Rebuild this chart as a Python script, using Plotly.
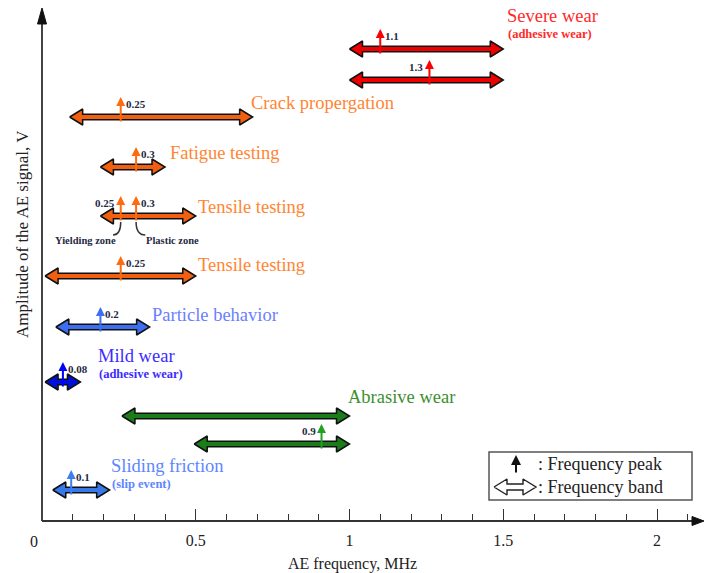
import plotly.graph_objects as go

# ---------------- data ----------------
band_name = ["Severe wear", "Severe wear", "Crack propergation", "Fatigue testing",
             "Tensile testing", "Tensile testing", "Particle behavior", "Mild wear",
             "Abrasive wear", "Abrasive wear", "Sliding friction"]
band_low = [1.00, 1.00, 0.09, 0.19, 0.19, 0.01, 0.045, 0.01, 0.26, 0.495, 0.035]
band_high = [1.50, 1.50, 0.685, 0.40, 0.50, 0.50, 0.35, 0.125, 1.00, 1.00, 0.22]
amplitude_level = [4.72, 4.41, 4.04, 3.54, 3.05, 2.45, 1.94, 1.39, 1.05, 0.77, 0.31]

peak_row = [0, 1, 2, 3, 4, 4, 5, 6, 7, 9, 10]
peak_freq = [1.10, 1.26, 0.256, 0.306, 0.256, 0.306, 0.256, 0.19, 0.068, 0.909, 0.095]
peak_text = ["1.1", "1.3", "0.25", "0.3", "0.25", "0.3", "0.25", "0.2", "0.08", "0.9", "0.1"]
peak_side = ["right", "left", "right", "right", "left", "right", "right", "right", "right", "left", "right"]

label_text = ["Severe wear", "Crack propergation", "Fatigue testing", "Tensile testing",
              "Tensile testing", "Particle behavior", "Mild wear", "Abrasive wear", "Sliding friction"]
label_sub = ["(adhesive wear)", "", "", "", "", "", "(adhesive wear)", "", "(slip event)"]
label_x = [1.505, 0.674, 0.41, 0.50, 0.50, 0.35, 0.177, 0.99, 0.219]
label_y = [5.05, 4.18, 3.68, 3.14, 2.56, 2.06, 1.65, 1.24, 0.55]

x_tick_vals = [0.5, 1, 1.5, 2]
x_tick_text = ["0.5", "1", "1.5", "2"]
x_minor_vals = [0.1, 0.2, 0.3, 0.4, 0.6, 0.7, 0.8, 0.9, 1.1, 1.2, 1.3, 1.4,
                1.6, 1.7, 1.8, 1.9, 2.1]

# ---------------- styles ----------------
FONT = "Liberation Serif, Times New Roman, serif"
row_fill = ["#ee0000", "#ee0000", "#f06010", "#f06010", "#f06010", "#f06010",
            "#3d6ef2", "#0010d8", "#1a7d1a", "#1a7d1a", "#3878e8"]
row_arrow = ["#ff0000", "#ff0000", "#ff6a10", "#ff6a10", "#ff6a10", "#ff6a10",
             "#3c6ff5", "#0000ff", "#22a022", "#22a022", "#3c80f0"]
label_color = ["#ff2a2a", "#ff8533", "#ff8533", "#ff8533", "#ff8533",
               "#6b80ff", "#3b2bff", "#3d8f2f", "#5d86ff"]

PX_X = 1 / 307.5   # MHz per pixel
PX_Y = 0.01        # level units per pixel
X_RANGE = [-42 * PX_X, 663 * PX_X]
Y_RANGE = [-0.10, 5.21]


def double_arrow(x0, x1, y, shaft=2.8, head=8.0, head_len=13.0):
    hl = head_len * PX_X
    s = shaft * PX_Y
    h = head * PX_Y
    xs = [x0, x0 + hl, x0 + hl, x1 - hl, x1 - hl, x1, x1 - hl, x1 - hl, x0 + hl, x0 + hl, x0]
    ys = [y, y + h, y + s, y + s, y + h, y, y - h, y - s, y - s, y - h, y]
    return xs, ys


fig = go.Figure()

# axes lines with arrow heads
fig.add_trace(go.Scatter(x=[0, 0], y=[0, 5.0], mode="lines",
                         line=dict(color="#444", width=2), hoverinfo="skip", showlegend=False))
fig.add_trace(go.Scatter(x=[-4.5 * PX_X, 0, 4.5 * PX_X, -4.5 * PX_X],
                         y=[5.13 - 16 * PX_Y, 5.13, 5.13 - 16 * PX_Y, 5.13 - 16 * PX_Y],
                         mode="lines", fill="toself", fillcolor="#111", line=dict(color="#111", width=1),
                         hoverinfo="skip", showlegend=False))
x_end = 662 * PX_X
fig.add_trace(go.Scatter(x=[0, x_end - 8 * PX_X], y=[0, 0], mode="lines",
                         line=dict(color="#333", width=2), hoverinfo="skip", showlegend=False))
fig.add_trace(go.Scatter(x=[x_end - 12 * PX_X, x_end, x_end - 12 * PX_X, x_end - 12 * PX_X],
                         y=[4.5 * PX_Y, 0, -4.5 * PX_Y, 4.5 * PX_Y],
                         mode="lines", fill="toself", fillcolor="#111", line=dict(color="#111", width=1),
                         hoverinfo="skip", showlegend=False))

# frequency bands
for i in range(len(band_name)):
    xs, ys = double_arrow(band_low[i], band_high[i], amplitude_level[i])
    fig.add_trace(go.Scatter(x=xs, y=ys, mode="lines", fill="toself",
                             fillcolor=row_fill[i], line=dict(color="#111", width=1.5),
                             name=band_name[i], hoverinfo="name", showlegend=False))

annotations = []
UP, DOWN = 0.20, 0.06
for k in range(len(peak_freq)):
    r = peak_row[k]
    f = peak_freq[k]
    lvl = amplitude_level[r]
    annotations.append(dict(x=f, y=lvl + UP, ax=f, ay=lvl - DOWN, xref="x", yref="y",
                            axref="x", ayref="y", text="", showarrow=True, arrowhead=2,
                            arrowsize=0.9, arrowwidth=2, arrowcolor=row_arrow[r], standoff=0))
    right = peak_side[k] == "right"
    annotations.append(dict(x=f, y=lvl + 0.13, xref="x", yref="y", text="<b>" + peak_text[k] + "</b>",
                            showarrow=False, xanchor="left" if right else "right",
                            xshift=3 if right else -4, yanchor="middle",
                            font=dict(family=FONT, size=11, color="#1f2a44")))

for j in range(len(label_text)):
    annotations.append(dict(x=label_x[j], y=label_y[j], xref="x", yref="y", text=label_text[j],
                            showarrow=False, xanchor="left", yanchor="middle",
                            font=dict(family=FONT, size=18.5, color=label_color[j])))
    if label_sub[j]:
        annotations.append(dict(x=label_x[j], y=label_y[j] - 0.175, xref="x", yref="y",
                                text="<b>" + label_sub[j] + "</b>", showarrow=False,
                                xanchor="left", yanchor="middle", xshift=1,
                                font=dict(family=FONT, size=12.5, color=label_color[j])))

# zone notes for the first tensile test
t_lvl = amplitude_level[4]
zone_y = t_lvl - 0.24
annotations.append(dict(x=0.14, y=zone_y, xref="x", yref="y", text="<b>Yielding zone</b>",
                        showarrow=False, font=dict(family=FONT, size=10.5, color="#1f2a44")))
annotations.append(dict(x=0.423, y=zone_y, xref="x", yref="y", text="<b>Plastic zone</b>",
                        showarrow=False, font=dict(family=FONT, size=10.5, color="#1f2a44")))
shapes = []
p1, p2 = peak_freq[4], peak_freq[5]
yc0 = t_lvl - DOWN
yc1 = t_lvl - 0.19
shapes.append(dict(type="path", xref="x", yref="y",
                   path=f"M {p1},{yc0} Q {p1},{yc1} {p1 - 0.025},{yc1}",
                   line=dict(color="#333", width=1.5)))
shapes.append(dict(type="path", xref="x", yref="y",
                   path=f"M {p2},{yc0} Q {p2},{yc1} {p2 + 0.03},{yc1}",
                   line=dict(color="#333", width=1.5)))

# legend box
lx0, lx1 = 447 * PX_X, 650 * PX_X
ly0, ly1 = 0.21, 0.69
shapes.append(dict(type="rect", xref="x", yref="y", x0=lx0, x1=lx1, y0=ly0, y1=ly1,
                   line=dict(color="#555", width=1.5), fillcolor="white", layer="below"))
leg_arrow_x = 474 * PX_X
annotations.append(dict(x=leg_arrow_x, y=0.66, ax=leg_arrow_x, ay=0.47, xref="x", yref="y",
                        axref="x", ayref="y", text="", showarrow=True, arrowhead=2,
                        arrowsize=1.0, arrowwidth=2, arrowcolor="#111", standoff=0))
xs, ys = double_arrow(452 * PX_X, 494 * PX_X, 0.34, shaft=3.0, head=8.0, head_len=13.0)
fig.add_trace(go.Scatter(x=xs, y=ys, mode="lines", fill="toself", fillcolor="white",
                         line=dict(color="#222", width=1.4), hoverinfo="skip", showlegend=False))
annotations.append(dict(x=494 * PX_X, y=0.57, xref="x", yref="y", text=": Frequency peak",
                        showarrow=False, xanchor="left", yanchor="middle",
                        font=dict(family=FONT, size=18, color="#222")))
annotations.append(dict(x=494 * PX_X, y=0.34, xref="x", yref="y", text=": Frequency band",
                        showarrow=False, xanchor="left", yanchor="middle",
                        font=dict(family=FONT, size=18, color="#222")))

# axis labels
annotations.append(dict(x=0, y=0, xref="x", yref="y", text="0", showarrow=False,
                        xanchor="center", yanchor="top", xshift=-8, yshift=-10,
                        font=dict(family=FONT, size=16, color="#222")))
annotations.append(dict(x=22 / 705, y=2.87, xref="paper", yref="y",
                        xanchor="center", yanchor="middle",
                        text="Amplitude of the AE signal, V", textangle=-90, showarrow=False,
                        font=dict(family=FONT, size=17, color="#222")))

fig.update_layout(
    width=705, height=573,
    margin=dict(l=0, r=0, t=0, b=42),
    paper_bgcolor="white", plot_bgcolor="white",
    showlegend=False,
    annotations=annotations,
    shapes=shapes,
    xaxis=dict(range=X_RANGE, anchor="free", position=(0 - Y_RANGE[0]) / (Y_RANGE[1] - Y_RANGE[0]),
               tickmode="array", tickvals=x_tick_vals, ticktext=x_tick_text,
               ticks="inside", ticklen=12, tickwidth=1.3, tickcolor="#333",
               minor=dict(tickmode="array", tickvals=x_minor_vals, ticks="inside",
                          ticklen=7, tickwidth=1.2, tickcolor="#333"),
               showgrid=False, zeroline=False, showline=False, ticklabelstandoff=8,
               tickfont=dict(family=FONT, size=16, color="#222"),
               title=dict(text="AE frequency, MHz", font=dict(family=FONT, size=16, color="#222"),
                          standoff=10)),
    yaxis=dict(range=Y_RANGE, visible=False),
)

fig.write_html("out.html")
